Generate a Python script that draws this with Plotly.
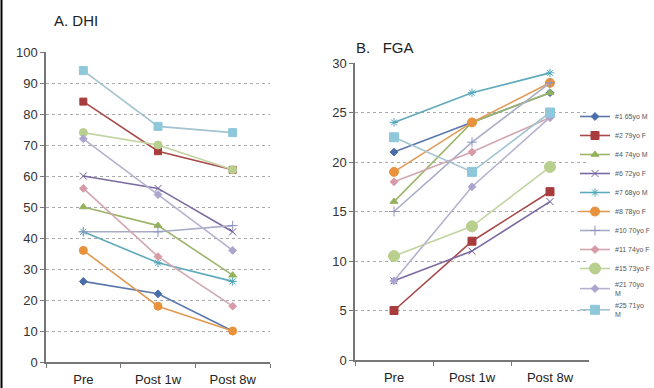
import plotly.graph_objects as go

categories = ["Pre", "Post 1w", "Post 8w"]
names = ["#1 65yo M", "#2 79yo F", "#4 74yo M", "#6 72yo F", "#7 68yo M", "#8 78yo F",
         "#10 70yo F", "#11 74yo F", "#15 73yo F", "#21 70yo<br>M", "#25 71yo<br>M"]
dhi = [
    [26, 22, 10],
    [84, 68, 62],
    [50, 44, 28],
    [60, 56, 42],
    [42, 32, 26],
    [36, 18, 10],
    [42, 42, 44],
    [56, 34, 18],
    [74, 70, 62],
    [72, 54, 36],
    [94, 76, 74],
]
fga = [
    [21, 24, 27],
    [5, 12, 17],
    [16, 24, 27],
    [8, 11, 16],
    [24, 27, 29],
    [19, 24, 28],
    [15, 22, 28],
    [18, 21, 24.5],
    [10.5, 13.5, 19.5],
    [8, 17.5, 24.5],
    [22.5, 19, 25],
]
colors = ["#4a6eab", "#a83c3c", "#93b25a", "#6f5c9c", "#4ea6b9", "#e8923c",
          "#8e93bf", "#d99aa8", "#b8cf8e", "#aaa5cf", "#8ec8da"]
line_colors = ["#5a78ab", "#a84848", "#9db56a", "#7a6aa0", "#5eaabb", "#e09a55",
               "#a9acc6", "#d2a6b0", "#c2d3a2", "#b5b1cf", "#a3c3d0"]
symbols = ["diamond", "square", "triangle-up", "x-thin-open", "asterisk-open", "circle",
           "cross-thin-open", "diamond", "circle", "diamond", "square"]
sizes_a = [6, 7, 7, 7, 7, 8, 7, 6, 8, 6, 8]
sizes_b = [6, 8, 7, 7, 7, 9, 7, 6, 11, 6, 9]

fig = go.Figure()
for i, n in enumerate(names):
    fig.add_trace(go.Scatter(
        x=categories, y=dhi[i], mode="lines+markers", name=n, showlegend=False,
        line=dict(color=line_colors[i], width=1.6),
        marker=dict(symbol=symbols[i], size=sizes_a[i], color=colors[i],
                    line=dict(color=colors[i], width=1)),
        xaxis="x", yaxis="y"))
for i, n in enumerate(names):
    fig.add_trace(go.Scatter(
        x=categories, y=fga[i], mode="lines+markers", name=n, showlegend=True,
        line=dict(color=line_colors[i], width=1.6),
        marker=dict(symbol=symbols[i], size=sizes_b[i], color=colors[i],
                    line=dict(color=colors[i], width=1)),
        xaxis="x2", yaxis="y2"))

axis_font = dict(family="Liberation Sans, Arial", size=13, color="#333333")
common_x = dict(type="category", range=[-0.5, 2.5], showline=True, linecolor="#777777",
                linewidth=1.5, ticks="outside", tickson="boundaries", ticklen=4,
                tickcolor="#777777", showgrid=False, automargin=False,
                ticklabelstandoff=5,
                tickfont=dict(family="Liberation Sans, Arial", size=13, color="#222222"),
                fixedrange=True)
common_y = dict(showline=True, linecolor="#777777", linewidth=1.5, ticks="outside",
                ticklen=4, tickcolor="#777777", showgrid=True, gridcolor="#aaaaaa",
                griddash="dot", gridwidth=1, zeroline=False, tickfont=axis_font,
                automargin=False)

fig.update_layout(
    width=654, height=388,
    margin=dict(l=0, r=0, t=0, b=0, autoexpand=False),
    paper_bgcolor="white", plot_bgcolor="white",
    xaxis=dict(domain=[46/654, 270/654], anchor="y", **common_x),
    yaxis=dict(domain=[26/388, 336/388], range=[0, 100], dtick=10, anchor="x", **common_y),
    xaxis2=dict(domain=[355/654, 589/654], anchor="y2", **common_x),
    yaxis2=dict(domain=[28/388, 325/388], range=[0, 30], dtick=5, anchor="x2", **common_y),
    legend=dict(x=575/654, y=1 - 102/388, xanchor="left", yanchor="top",
                font=dict(family="Liberation Sans, Arial", size=7, color="#555555"),
                itemwidth=30, tracegroupgap=0, bgcolor="rgba(0,0,0,0)"),
    showlegend=True,
    annotations=[
        dict(text="A. DHI", x=52/654, y=1 - 20/388, xref="paper", yref="paper",
             xanchor="left", yanchor="middle", showarrow=False,
             font=dict(family="Liberation Sans, Arial", size=15, color="#222222")),
        dict(text="B.&nbsp;&nbsp;&nbsp;FGA", x=354/654, y=1 - 47/388, xref="paper", yref="paper",
             xanchor="left", yanchor="middle", showarrow=False,
             font=dict(family="Liberation Sans, Arial", size=15, color="#222222")),
    ],
    shapes=[dict(type="line", xref="paper", yref="paper", x0=1.5/654, x1=1.5/654, y0=0, y1=1,
                 line=dict(color="black", width=2))],
)

fig.write_html("out.html", config={"displayModeBar": False},
               post_script="document.body.style.margin='0px';")
